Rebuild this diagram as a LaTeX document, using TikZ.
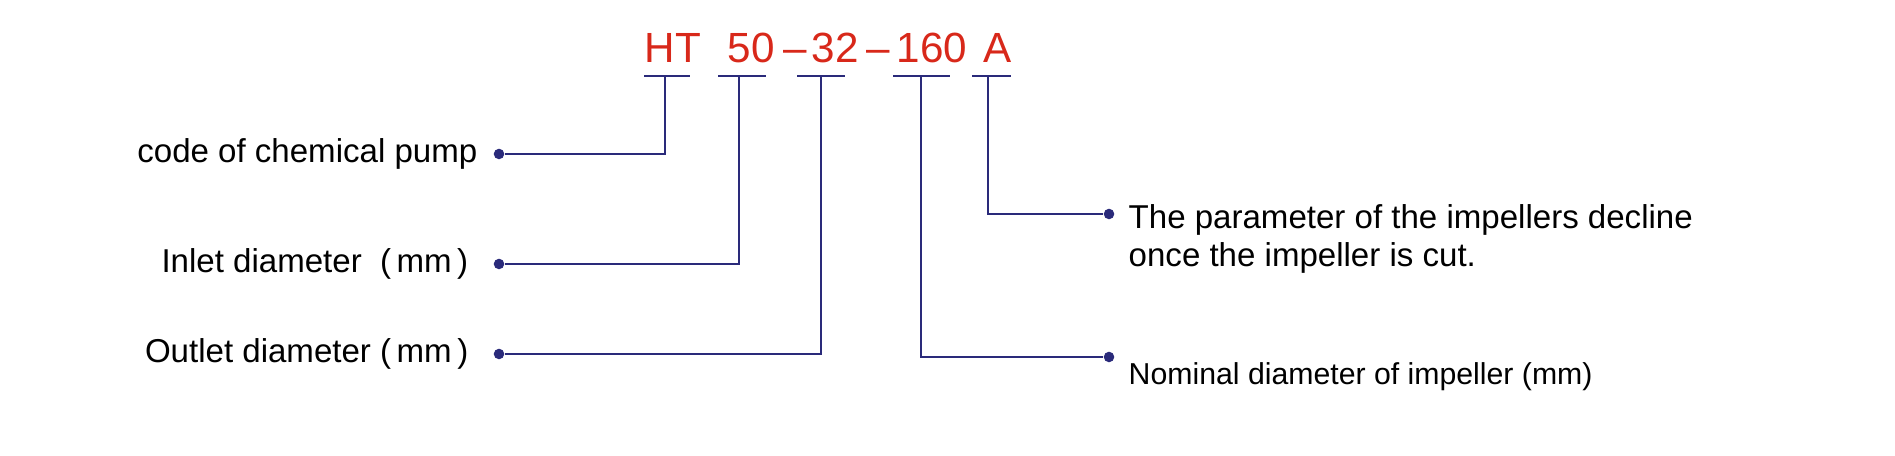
\documentclass[tikz,border=0pt]{standalone}
\usepackage{fontspec}
\setmainfont{Liberation Sans}
\definecolor{codered}{HTML}{D8281A}
\definecolor{ln}{HTML}{2A2A7A}
\begin{document}
\begin{tikzpicture}[x=0.01cm,y=-0.01cm,
 code/.style={text=codered,font=\fontsize{12}{14}\selectfont,inner sep=0,anchor=base west},
 lab/.style={font=\fontsize{9.4}{11}\selectfont,inner sep=0},
 wire/.style={draw=ln,line width=0.7pt},
 dot/.style={circle,fill=ln,inner sep=0,minimum size=3pt}]
\useasboundingbox (0,0) rectangle (1895,456);
\node[code] (ht) at (644,63) {HT};
\node[code] (n50) at (727,63) {50};
\node[code] (d1) at (783,63) {--};
\node[code] (n32) at (811,63) {32};
\node[code] (d2) at (866,63) {--};
\node[code] (n160) at (896,63) {160};
\node[code] (na) at (983,63) {A};
\foreach \a/\b in {644/690,718/766,797/845,893/950,972/1011}
  \draw[wire] (\a,76) -- (\b,76);
\node[dot] (p1) at (499,154) {};
\node[dot] (p2) at (499,264) {};
\node[dot] (p3) at (499,354) {};
\node[dot] (p4) at (1109,357) {};
\node[dot] (p5) at (1109,214) {};
\coordinate (s1) at (665,76);
\coordinate (s2) at (739,76);
\coordinate (s3) at (821,76);
\coordinate (s4) at (921,76);
\coordinate (s5) at (988,76);
\draw[wire] (s1) |- (p1);
\draw[wire] (s2) |- (p2);
\draw[wire] (s3) |- (p3);
\draw[wire] (s4) |- (p4);
\draw[wire] (s5) |- (p5);
\node[lab,anchor=east] (l1) at (478,154) {code of chemical pump};
\node[lab,anchor=east] (l2) at (469,264) {Inlet diameter\ \ (\,mm\,)};
\node[lab,anchor=east] (l3) at (469,354) {Outlet diameter\ (\,mm\,)};
\node[lab,anchor=base west,align=left] (l5) at (1128,267) {The parameter of the impellers decline\\once the impeller is cut.};
\node[lab,anchor=west,font=\fontsize{8.6}{10}\selectfont] (l4) at (1128,377) {Nominal diameter of impeller (mm)};
\end{tikzpicture}
\end{document}
